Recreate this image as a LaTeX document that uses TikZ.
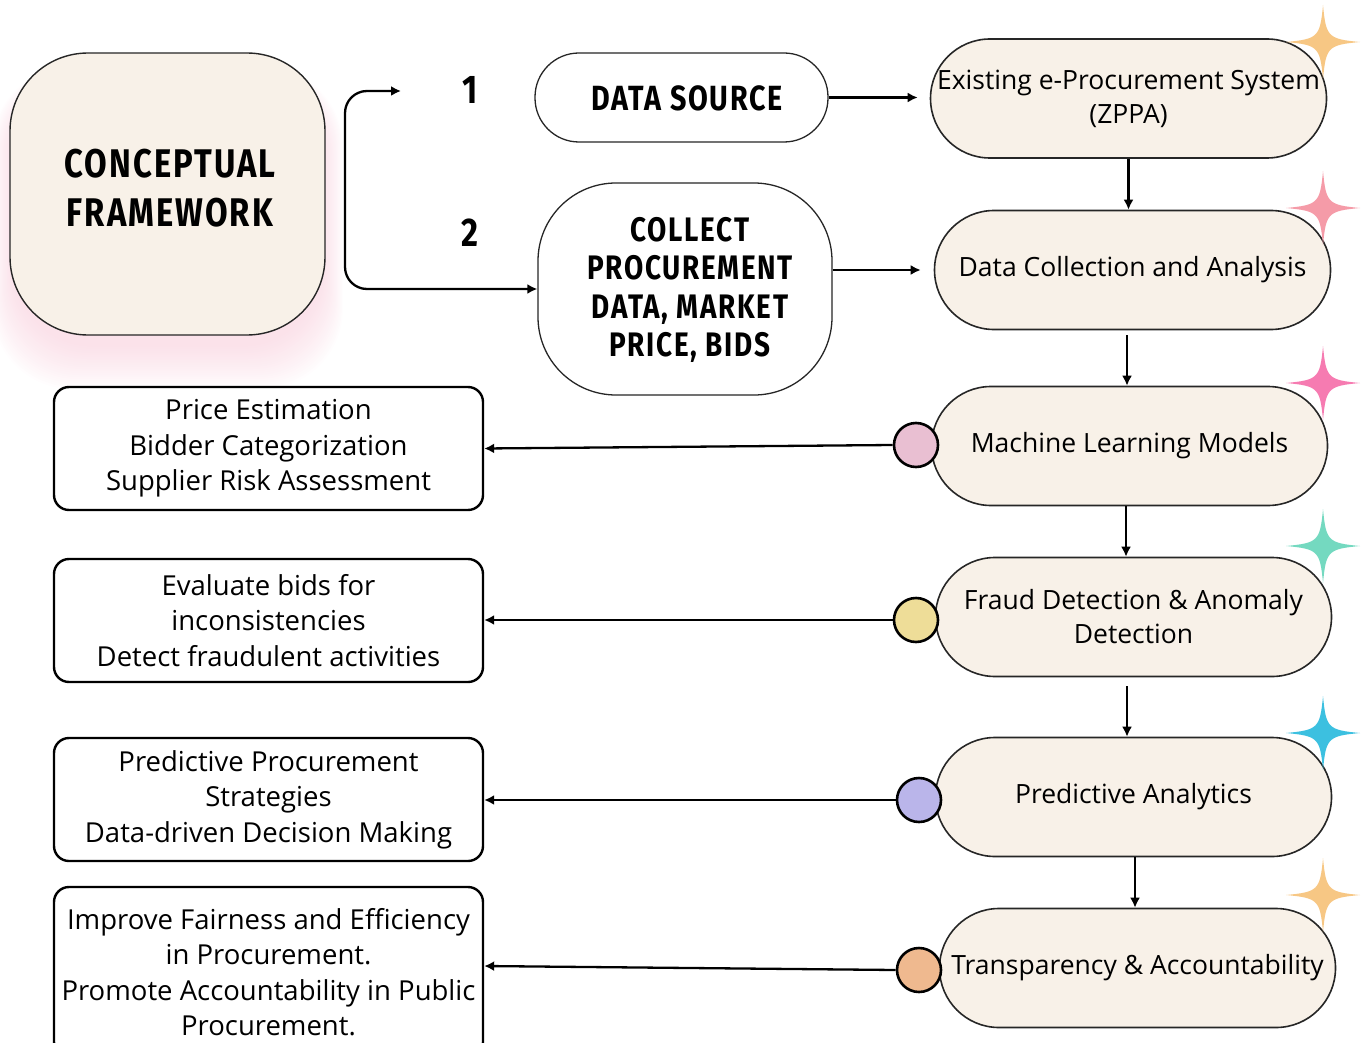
\documentclass[tikz,border=0pt]{standalone}
\usepackage{fontspec}
\setmainfont{Open Sans}
\newfontfamily\headfont[FakeStretch=0.82,LetterSpace=5]{Fira Sans}
\usetikzlibrary{arrows.meta,positioning}
\definecolor{cream}{HTML}{F8F1E8}
\definecolor{glow}{HTML}{F7C6D6}
\definecolor{dotpink}{HTML}{E9BFD2}
\definecolor{dotyellow}{HTML}{EEDD98}
\definecolor{dotlav}{HTML}{BAB5EA}
\definecolor{dotorange}{HTML}{EFB98F}
\definecolor{sporange}{HTML}{F7C784}
\definecolor{sppink}{HTML}{F59BA8}
\definecolor{sphot}{HTML}{F67BB1}
\definecolor{spteal}{HTML}{74D9C0}
\definecolor{spblue}{HTML}{3CC0E0}
\tikzset{
  headtxt/.style={font=\headfont\bfseries, text=black},
  bigbox/.style={draw=black!85, line width=1.4pt, fill=cream, rounded corners=78pt,
     minimum width=315pt, minimum height=282pt, inner sep=0pt},
  srcbox/.style={draw=black!85, line width=1.3pt, fill=white, inner sep=0pt},
  pill/.style={draw=black!85, line width=1.6pt, fill=cream, rounded corners=59.5pt,
     minimum width=396pt, minimum height=119pt, inner sep=0pt, align=center,
     font=\fontsize{26.5}{34}\selectfont},
  outbox/.style={draw=black, line width=2.4pt, fill=white, rounded corners=15pt,
     minimum width=429pt, minimum height=123pt, inner sep=0pt, align=center,
     font=\fontsize{27.5}{35.5}\selectfont},
  dot/.style={circle, draw=black, line width=2.6pt, minimum size=44pt, inner sep=0pt},
  conn/.style={line width=2.3pt, -{Latex[length=10pt,width=10pt]}},
  pics/sparkle/.style={code={
    \fill[#1] (0,-37) .. controls (3,-5) and (5,-3) .. (37,0)
      .. controls (5,3) and (3,5) .. (0,37)
      .. controls (-3,5) and (-5,3) .. (-37,0)
      .. controls (-5,-3) and (-3,-5) .. (0,-37) -- cycle;}}
}
\begin{document}
\begin{tikzpicture}[x=1pt,y=-1pt]
\useasboundingbox (0,0) rectangle (1362,1043);

% soft pink glow behind the framework card, strongest below it
\foreach \i in {1,...,22}{
  \fill[glow, opacity=0.03, rounded corners=80pt]
    (14-1.0*\i,80-0.6*\i) rectangle (321+1.0*\i,345+2.0*\i);
}

% framework card
\node[bigbox] (cf) at (167.5,194) {};
\node[headtxt, align=center, font=\headfont\bfseries\fontsize{40}{49}\selectfont] (cft) at (170,188) {CONCEPTUAL\\FRAMEWORK};

% step numbers
\node[headtxt, font=\headfont\bfseries\fontsize{40}{40}\selectfont] (n1) at (470,90) {1};
\node[headtxt, font=\headfont\bfseries\fontsize{40}{40}\selectfont] (n2) at (470,233) {2};

% data source and collection nodes
\node[srcbox, rounded corners=44pt, minimum width=293pt, minimum height=89pt] (src) at (681.5,97.5) {};
\node[headtxt, font=\headfont\bfseries\fontsize{35}{35}\selectfont] (srct) at (687,98) {DATA SOURCE};
\node[srcbox, rounded corners=78pt, minimum width=294pt, minimum height=212pt] (col) at (685,289) {};
\node[headtxt, align=center, font=\headfont\bfseries\fontsize{34}{38.5}\selectfont] (colt) at (690,290) {COLLECT\\PROCUREMENT\\DATA, MARKET\\PRICE, BIDS};

% branching connector from the card
\coordinate (top) at (401,91);
\draw[line width=2.3pt, rounded corners=22pt,
      {Latex[length=10pt,width=10pt]}-{Latex[length=10pt,width=10pt]}]
  (top) -- (345,91) -- (345,289) -- (col.west |- 0,289);

% process pills
\node[pill] (r1) at (1128.5,98.5) {Existing e-Procurement System\\(ZPPA)};
\node[pill] (r2) at (1132.5,270) {Data Collection and Analysis};
\node[pill] (r3) at (1129.5,446) {Machine Learning Models};
\node[pill] (r4) at (1133.5,617) {Fraud Detection \& Anomaly\\Detection};
\node[pill] (r5) at (1133.5,797) {Predictive Analytics};
\node[pill] (r6) at (1137.5,968) {Transparency \& Accountability};

% source arrows
\draw[conn, shorten >=12pt] (src.east) -- (r1.west |- src.east);
\draw[conn, shorten >=13pt] (col.east |- 0,270) -- (r2.west |- 0,270);

% vertical flow
\draw[conn] (r1.south) -- (r2.north -| r1.south);
\draw[conn] (1127,335) -- (r3.north -| 1127,0);
\draw[conn] (1126,506) -- (r4.north -| 1126,0);
\draw[conn] (1127,686) -- (r5.north -| 1127,0);
\draw[conn] (1135,857) -- (r6.north -| 1135,0);

% outcome boxes
\node[outbox] (l1) at (268.5,448.5) {Price Estimation\\Bidder Categorization\\Supplier Risk Assessment};
\node[outbox] (l2) at (268.5,620.5) {Evaluate bids for\\inconsistencies\\Detect fraudulent activities};
\node[outbox] (l3) at (268.5,799.5) {Predictive Procurement\\Strategies\\Data-driven Decision Making};
\node[outbox, minimum height=170pt] (l4) at (268.5,972) {Improve Fairness and Efficiency\\in Procurement.\\Promote Accountability in Public\\Procurement.};

% output dots and arrows
\node[dot, fill=dotpink] (c1) at (916,445) {};
\node[dot, fill=dotyellow] (c2) at (916,620) {};
\node[dot, fill=dotlav] (c3) at (919,800) {};
\node[dot, fill=dotorange] (c4) at (919,970) {};
\draw[conn] (c1.west) -- (l1.east);
\draw[conn] (c2.west) -- (l2.east |- c2.west);
\draw[conn] (c3.west) -- (l3.east |- c3.west);
\draw[conn] (c4.west) -- (l4.east |- 0,966);

% sparkles
\pic at (1323,42) {sparkle=sporange};
\pic at (1323,208) {sparkle=sppink};
\pic at (1323,383) {sparkle=sphot};
\pic at (1323,546) {sparkle=spteal};
\pic at (1323,733) {sparkle=spblue};
\pic at (1323,895) {sparkle=sporange};
\end{tikzpicture}
\end{document}
